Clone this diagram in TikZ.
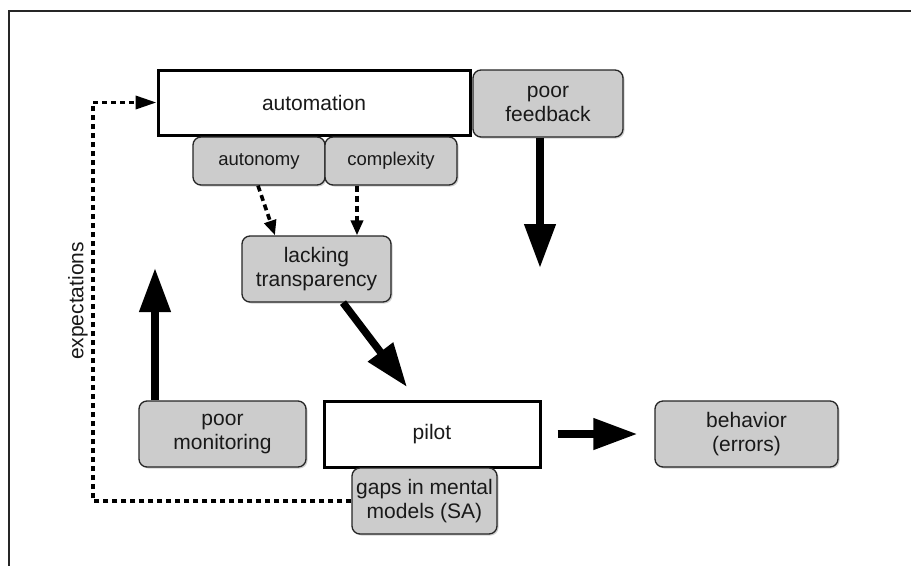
\documentclass[tikz,border=0pt]{standalone}
\usepackage{fontspec}
\setmainfont{Liberation Sans}
\usetikzlibrary{arrows.meta,shadows}
\begin{document}
\begin{tikzpicture}[x=1pt,y=-1pt,
  txt/.style={font=\fontsize{21}{24}\selectfont, text=black!90, align=center, inner sep=0pt},
  graybox/.style={txt, draw=black!85, line width=1.3pt, fill=black!20, rounded corners=8pt,
    drop shadow={shadow xshift=1.5pt, shadow yshift=-1.5pt, opacity=0.3, fill=black!60}},
  smallbox/.style={graybox, font=\fontsize{18.5}{22}\selectfont},
  whitebox/.style={txt, draw=black, line width=3pt, fill=white},
  bigarrow/.style={line width=7.5pt, -{Triangle[width=30pt,length=44pt]}},
  dasharrow/.style={line width=3.6pt, dash pattern=on 6pt off 4pt, -{Triangle[width=12pt,length=15pt]}},
  feedline/.style={line width=3.6pt, dash pattern=on 5pt off 4pt, -{Triangle[width=13pt,length=21pt]}}
]
\useasboundingbox (0,0) rectangle (911,566);
\fill[white] (0,0) rectangle (911,566);
% frame (top and left edges)
\draw[line width=2pt, black!85] (911,11) -- (9,11) -- (9,566);

% automation and its two factors
\node[whitebox, minimum width=312pt, minimum height=65pt] (automation) at (314,102.5) {automation};
\node[smallbox, minimum width=132pt, minimum height=48pt] (autonomy) at (259,161) {autonomy};
\node[smallbox, minimum width=132pt, minimum height=48pt] (complexity) at (391,161) {complexity};

\node[graybox, minimum width=150pt, minimum height=67pt] (feedback) at (548,103.5) {poor\\feedback};
\node[graybox, minimum width=149pt, minimum height=66pt] (lacking) at (316.5,269) {lacking\\transparency};
\node[graybox, minimum width=167pt, minimum height=66pt] (monitoring) at (222.5,434) {poor\\monitoring};

% pilot and mental models
\node[whitebox, minimum width=216pt, minimum height=66pt] (pilot) at (432,434) {pilot};
\node[graybox, minimum width=145pt, minimum height=66pt] (gaps) at (424.5,501) {gaps in mental\\models (SA)};
\node[graybox, minimum width=183pt, minimum height=66pt] (behavior) at (746.5,434) {behavior\\(errors)};

% free arrow ends
\coordinate (fbtip) at (540,268);
\coordinate (montip) at (155,268);
\coordinate (ltip) at (407,387);
\coordinate (ecorner) at (93,501);

\draw[bigarrow] (fbtip |- feedback.south) -- (fbtip);
\draw[bigarrow] (montip |- monitoring.north) -- (montip);
\draw[bigarrow] ([xshift=26.5pt]lacking.south) -- (ltip);
\draw[bigarrow] ([xshift=16pt]pilot.east) -- ([xshift=-17pt]behavior.west);

\draw[dasharrow] ([xshift=-1pt]autonomy.south) -- ([xshift=-41.5pt]lacking.north);
\draw[dasharrow] ([xshift=-34pt]complexity.south) -- ([xshift=-34pt]complexity.south |- lacking.north);

% expectations feedback loop
\draw[feedline] (gaps.west) -- (gaps.west -| ecorner) |- (automation.west);
\node[txt, rotate=90] (expect) at (78,301) {expectations};
\end{tikzpicture}
\end{document}
